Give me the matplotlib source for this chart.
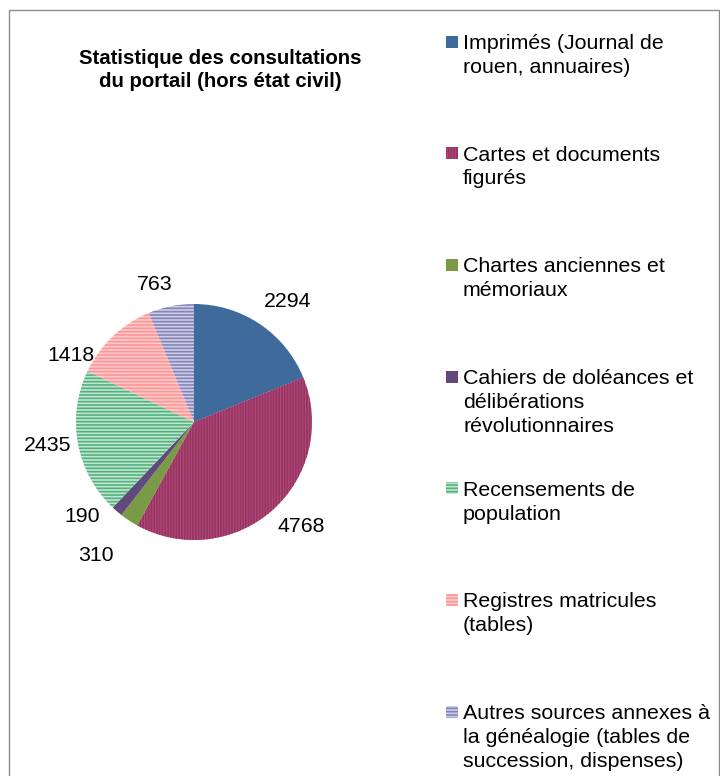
import numpy as np
import matplotlib.pyplot as plt
from matplotlib.patches import Rectangle

# Data
categories = [
    "Imprimés (Journal de\nrouen, annuaires)",
    "Cartes et documents\nfigurés",
    "Chartes anciennes et\nmémoriaux",
    "Cahiers de doléances et\ndélibérations\nrévolutionnaires",
    "Recensements de\npopulation",
    "Registres matricules\n(tables)",
    "Autres sources annexes à\nla généalogie (tables de\nsuccession, dispenses)",
]
values = [2294, 4768, 310, 190, 2435, 1418, 763]

# Styles: face colour, hatch colour, hatch
faces = ["#3F6A9C", "#B04A7E", "#7A9A45", "#604A7B", "#BFE6CE", "#FFCACA", "#CDCDE6"]
hatch_cols = ["#3F6A9C", "#97335F", "#7A9A45", "#604A7B", "#55B07F", "#FF9696", "#8484B8"]
hatches = [None, "||||||", None, None, "-----", "-----", "-----"]
# label placement (radius in pie radii, angle offset from wedge middle in degrees)
label_r = [1.29, 1.27, 1.40, 1.245, 1.26, 1.19, 1.21]
label_da = [-4, 4, -3, -9, -1.5, 18, 4.5]

plt.rcParams['font.family'] = ['Liberation Sans', 'DejaVu Sans']
plt.rcParams['hatch.linewidth'] = 1.2

W, H = 720, 776
fig = plt.figure(figsize=(W / 100, H / 100), dpi=100)

# outer frame
fig.patches.append(Rectangle((8.5 / W, -0.1), (718.5 - 8.5) / W, 1.1 - 10.5 / H,
                             transform=fig.transFigure, fill=False,
                             edgecolor="#8C8C8C", linewidth=1.0))

cx, cy, r = 194, 422, 118
ax = fig.add_axes([(cx - r) / W, (H - cy - r) / H, 2 * r / W, 2 * r / H])
wedges, _ = ax.pie(values, startangle=90, counterclock=False, radius=1)
ax.set_xlim(-1, 1)
ax.set_ylim(-1, 1)
ax.axis("off")

for w, fc, hc, h, v, lr, da in zip(wedges, faces, hatch_cols, hatches, values,
                                   label_r, label_da):
    w.set_facecolor(fc)
    w.set_edgecolor(hc)
    w.set_linewidth(0)
    if h:
        w.set_hatch(h)
    ang = np.deg2rad((w.theta1 + w.theta2) / 2 + da)
    ax.text(lr * np.cos(ang), lr * np.sin(ang), str(v), ha="center", va="center",
            fontsize=15.3, color="black")

fig.text(220 / W, 1 - 70 / H, "Statistique des consultations\ndu portail (hors état civil)",
         ha="center", va="center", fontsize=14.7, fontweight="bold", linespacing=1.3)

# legend drawn entry by entry (entries evenly spaced, as in the original)
top, step = 41.5, 111.7
sq = 12
for i, lab in enumerate(categories):
    y = top + i * step
    fig.patches.append(Rectangle((446 / W, 1 - (y + sq / 2) / H), sq / W, sq / H,
                                 transform=fig.transFigure, facecolor=faces[i],
                                 edgecolor=hatch_cols[i], linewidth=0,
                                 hatch=hatches[i]))
    fig.text(463 / W, 1 - (y - 7.6) / H, lab, ha="left", va="top", fontsize=15.4,
             linespacing=1.32)

fig.savefig("out.png", dpi=100)
